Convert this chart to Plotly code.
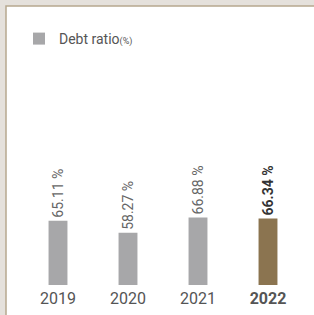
import plotly.graph_objects as go

years = ["2019", "2020", "2021", "2022"]
debt_ratio = [65.11, 58.27, 66.88, 66.34]
bar_colors = ["#a7a7a9", "#a7a7a9", "#a7a7a9", "#8b7450"]
label_colors = ["#666666", "#666666", "#666666", "#333333"]
tick_text = ["2019", "2020", "2021", "<b>2022</b>"]
labels = [f"{v:.2f} %" if y != "2022" else f"<b>{v:.2f} %</b>" for y, v in zip(years, debt_ratio)]

W, H = 314, 315
L, R, T, B = 23, 11, 7, 30
PW, PH = W - L - R, H - T - B

def px(x):
    return (x - L) / PW

def py(y):
    return (H - B - y) / PH

fig = go.Figure()
fig.add_trace(go.Bar(
    x=years, y=debt_ratio,
    marker=dict(color=bar_colors, line=dict(width=0)),
    text=labels, textposition="outside", textangle=-90,
    constraintext="none",
    textfont=dict(family="Roboto", size=14, color=label_colors),
    cliponaxis=False,
    name="Debt ratio<span style='font-size:9px'>(%)</span>",
    showlegend=True,
))

fig.update_layout(
    width=W, height=H,
    margin=dict(l=L, r=R, t=T, b=B, autoexpand=False),
    paper_bgcolor="#e5e1dc",
    plot_bgcolor="rgba(0,0,0,0)",
    bargap=0.73,
    showlegend=True,
    legend=dict(x=px(19), y=py(23), xanchor="left", yanchor="top",
                bgcolor="rgba(0,0,0,0)",
                font=dict(family="Roboto", size=14, color="#555555")),
    xaxis=dict(showline=False, showgrid=False, ticks="", zeroline=False,
               tickvals=years, ticktext=tick_text, automargin=False,
               ticklabelstandoff=2,
               tickfont=dict(family="Roboto", size=16, color="#555555")),
    yaxis=dict(visible=False, range=[29, 185], showgrid=False, zeroline=False),
    shapes=[dict(type="rect", xref="paper", yref="paper",
                 x0=px(6), x1=px(330), y0=py(330), y1=py(6),
                 fillcolor="#ffffff", line=dict(color="#b7a88e", width=1.5),
                 layer="below")],
)

fig.write_html("out.html", config={"displayModeBar": False},
               post_script="document.body.style.margin='0';document.body.style.overflow='hidden';")
